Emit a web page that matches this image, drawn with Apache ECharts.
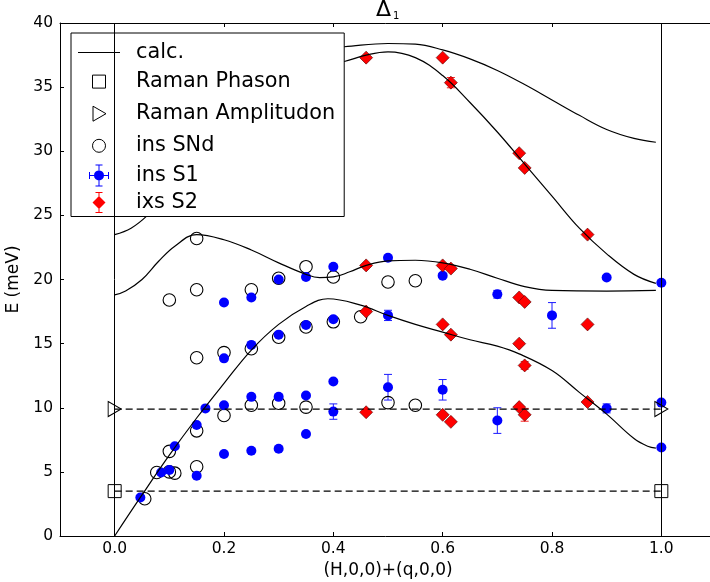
<!DOCTYPE html>
<html>
<head>
<meta charset="utf-8">
<title>Delta 1</title>
<script src="https://cdn.jsdelivr.net/npm/echarts@6/dist/echarts.min.js"></script>
<style>
html, body { margin: 0; padding: 0; background: #fff; }
#main { width: 710px; height: 582px; }
</style>
</head>
<body>
<div id="main"></div>
<script>
// calc. branches
var calc1 = [[0, 0], [0.05, 3.2], [0.1, 6.3], [0.15, 9.2], [0.2, 11.9], [0.25, 14.5], [0.3, 16.5],
    [0.35, 17.9], [0.39, 18.5], [0.45, 18.0], [0.5, 17.2], [0.55, 16.5], [0.6, 15.9], [0.65, 15.3],
    [0.7, 14.8], [0.74, 14.2], [0.8, 12.9], [0.85, 11.2], [0.9, 9.5], [0.95, 7.6], [0.975, 7.0], [0.99, 6.85]];
var calc2 = [[0, 18.8], [0.02, 19.1], [0.05, 20.0], [0.08, 21.4], [0.11, 22.6], [0.15, 23.5], [0.2, 23.1],
    [0.25, 22.3], [0.3, 21.3], [0.35, 20.4], [0.375, 20.15], [0.4, 20.2], [0.43, 20.6], [0.46, 21.1],
    [0.5, 21.45], [0.55, 21.5], [0.6, 21.3], [0.65, 20.8], [0.7, 20.1], [0.75, 19.45], [0.8, 19.15],
    [0.9, 19.1], [0.99, 19.15]];
var calc3 = [[0, 23.5], [0.03, 24.0], [0.06, 25.0], [0.1, 26.8], [0.15, 29.3], [0.2, 31.7], [0.25, 33.7],
    [0.3, 35.3], [0.35, 36.4], [0.42, 37.0], [0.46, 37.5], [0.5, 37.75], [0.55, 37.3], [0.6, 35.9],
    [0.65, 33.8], [0.7, 31.5], [0.75, 29.0], [0.8, 26.5], [0.85, 24.0], [0.9, 22.0], [0.95, 20.4], [0.99, 19.7]];
var calc4 = [[0, 36.0], [0.1, 36.8], [0.2, 37.4], [0.3, 37.8], [0.42, 38.15], [0.5, 38.4], [0.55, 38.35],
    [0.6, 37.9], [0.65, 37.2], [0.7, 36.3], [0.75, 35.2], [0.8, 34.0], [0.85, 32.8], [0.9, 31.7],
    [0.95, 31.0], [0.99, 30.7]];

// Raman
var ramanPhason = [[0, 3.5], [1, 3.5]];
var ramanAmp = [[0, 9.9], [1, 9.9]];

// ins SNd (open circles)
var insSNd = [[0.055, 2.9], [0.077, 4.95], [0.10, 5.0], [0.11, 4.9], [0.10, 6.6], [0.15, 5.4], [0.15, 8.2],
    [0.20, 9.4], [0.25, 10.2], [0.30, 10.35], [0.35, 10.05], [0.50, 10.4], [0.55, 10.2], [0.15, 13.9],
    [0.20, 14.3], [0.25, 14.6], [0.30, 15.5], [0.35, 16.3], [0.40, 16.7], [0.45, 17.1], [0.10, 18.4],
    [0.15, 19.2], [0.25, 19.2], [0.30, 20.1], [0.35, 21.0], [0.40, 20.2], [0.50, 19.8], [0.55, 19.9],
    [0.15, 23.2]];

// ins S1 (blue)
var insS1 = [[0.047, 3.0], [0.085, 4.95], [0.10, 5.15], [0.11, 7.0], [0.15, 4.7], [0.15, 8.65], [0.166, 9.95],
    [0.20, 10.2], [0.20, 6.4], [0.25, 6.65], [0.30, 6.8], [0.35, 7.95], [0.25, 10.85], [0.30, 10.85],
    [0.35, 10.95], [0.40, 12.05], [0.40, 9.7], [0.50, 11.6], [0.60, 11.4], [0.70, 9.0], [0.90, 9.95],
    [1.0, 10.4], [1.0, 6.9], [0.20, 13.85], [0.25, 14.9], [0.30, 15.7], [0.35, 16.45], [0.40, 16.9],
    [0.50, 17.2], [0.20, 18.2], [0.25, 18.6], [0.30, 20.0], [0.35, 20.2], [0.40, 21.0], [0.50, 21.7],
    [0.60, 20.3], [0.70, 18.85], [0.80, 17.2], [0.90, 20.15], [1.0, 19.75]];
var errS1 = [[0.40, 9.7, 0.6], [0.50, 11.6, 1.0], [0.50, 17.2, 0.4], [0.60, 11.4, 0.8], [0.70, 9.0, 1.0],
    [0.70, 18.85, 0.3], [0.80, 17.2, 1.0], [0.90, 9.95, 0.35]];

// ixs S2 (red)
var ixsS2 = [[0.46, 37.3], [0.60, 37.3], [0.615, 35.35], [0.74, 29.85], [0.75, 28.7], [0.865, 23.5],
    [0.46, 21.1], [0.60, 21.1], [0.615, 20.85], [0.74, 18.6], [0.75, 18.25], [0.865, 16.5],
    [0.46, 17.5], [0.60, 16.5], [0.615, 15.7], [0.74, 15.0], [0.75, 13.3], [0.865, 10.45],
    [0.46, 9.65], [0.60, 9.45], [0.615, 8.9], [0.74, 10.05], [0.75, 9.45]];
var errS2 = [[0.615, 35.35, 0.4], [0.75, 9.45, 0.5], [0.75, 13.3, 0.3]];

var xTicks = [0, 0.2, 0.4, 0.6, 0.8, 1.0];

var font = 'DejaVu Sans';

// legend icons, all in a 22x22 box (first two moves only fix the box)
var iconLine = 'path://M0,0L42,0L42,1L0,1Z';
var iconSquare = 'path://M0,0ZM22,22ZM4.5,4.5L17.5,4.5L17.5,17.5L4.5,17.5Z';
var iconTri = 'path://M0,0ZM22,22ZM5,3.5L18,11L5,18.5Z';
var iconCircle = 'path://M0,0ZM22,22ZM4.5,11A6.5,6.5 0 1,1 17.5,11A6.5,6.5 0 1,1 4.5,11Z';
var iconS1 = 'path://M0,0ZM22,22ZM6,11A5,5 0 1,1 16,11A5,5 0 1,1 6,11Z' +
    'M10.5,0L11.5,0L11.5,22L10.5,22Z M7.5,0L14.5,0L14.5,1L7.5,1Z M7.5,21L14.5,21L14.5,22L7.5,22Z' +
    'M1,10.5L21,10.5L21,11.5L1,11.5Z M1,7.5L2,7.5L2,14.5L1,14.5Z M20,7.5L21,7.5L21,14.5L20,14.5Z';
var iconS2 = 'path://M0,0ZM22,22ZM11,4.5L17.5,11L11,17.5L4.5,11Z' +
    'M10.5,0.5L11.5,0.5L11.5,21.5L10.5,21.5Z M7.5,0.5L14.5,0.5L14.5,1.5L7.5,1.5Z M7.5,20.5L14.5,20.5L14.5,21.5L7.5,21.5Z';

// vertical error bars with caps
function errorBar(color) {
    return function(params, api) {
        var x = api.value(0), y = api.value(1), e = api.value(2);
        var a = api.coord([x, y + e]);
        var b = api.coord([x, y - e]);
        var st = { stroke: color, lineWidth: 1 };
        return {
            type: 'group',
            children: [
                { type: 'line', shape: { x1: a[0], y1: a[1], x2: b[0], y2: b[1] }, style: st },
                { type: 'line', shape: { x1: a[0] - 4, y1: a[1], x2: a[0] + 4, y2: a[1] }, style: st },
                { type: 'line', shape: { x1: b[0] - 4, y1: b[1], x2: b[0] + 4, y2: b[1] }, style: st }
            ]
        };
    };
}

function calcLine(data) {
    return {
        name: 'calc.',
        type: 'line',
        data: data,
        smooth: 0.4,
        symbol: 'none',
        itemStyle: { color: '#000' },
        lineStyle: { color: '#000', width: 1.2 }
    };
}

var first = calcLine(calc1);
// the two vertical lines at q = 0 and q = 1
first.markLine = {
    silent: true,
    symbol: ['none', 'none'],
    label: { show: false },
    lineStyle: { color: '#000', width: 1, type: 'solid' },
    data: [{ xAxis: 0 }, { xAxis: 1 }]
};

var myechart = echarts.init(document.getElementById('main'));
var option = {
    animation: false,
    backgroundColor: '#fff',
    title: [
        { text: 'Δ', left: 376, top: -1, padding: 0, textStyle: { color: '#000', fontFamily: font, fontSize: 22, fontWeight: 'normal' } },
        { text: '1', left: 393, top: 11, padding: 0, textStyle: { color: '#000', fontFamily: font, fontSize: 10, fontWeight: 'normal' } }
    ],
    grid: { left: 60, top: 23, width: 656, height: 513, containLabel: false, outerBoundsMode: 'none' },
    legend: {
        orient: 'vertical',
        left: 71,
        top: 33,
        padding: [9, 9, 3, 7],
        itemGap: 5.1,
        itemWidth: 42,
        itemHeight: 22,
        backgroundColor: '#fff',
        borderColor: '#000',
        borderWidth: 1,
        selectedMode: false,
        textStyle: { color: '#000', fontFamily: font, fontSize: 20.8, padding: [0, 0, 0, 11] },
        data: [
            { name: 'calc.', icon: iconLine, itemStyle: { color: '#000', borderWidth: 0 } },
            { name: 'Raman Phason', icon: iconSquare, itemStyle: { color: 'none', borderColor: '#000', borderWidth: 1 } },
            { name: 'Raman Amplitudon', icon: iconTri, itemStyle: { color: 'none', borderColor: '#000', borderWidth: 1 } },
            { name: 'ins SNd', icon: iconCircle, itemStyle: { color: 'none', borderColor: '#000', borderWidth: 1 } },
            { name: 'ins S1', icon: iconS1, itemStyle: { color: '#0000ff', borderWidth: 0 } },
            { name: 'ixs S2', icon: iconS2, itemStyle: { color: '#ff0000', borderWidth: 0 } }
        ]
    },
    xAxis: [{
        type: 'value',
        min: -0.1,
        max: 1.1,
        name: '(H,0,0)+(q,0,0)',
        nameLocation: 'middle',
        nameGap: 24,
        nameTextStyle: { color: '#000', fontFamily: font, fontSize: 17 },
        axisLine: { show: true, onZero: false, lineStyle: { color: '#000', width: 1 } },
        axisTick: { show: true, inside: true, length: 4, customValues: xTicks, lineStyle: { color: '#000' } },
        axisLabel: {
            color: '#000', fontFamily: font, fontSize: 15.5, margin: 5, customValues: xTicks,
            formatter: function(v) { return v.toFixed(1); }
        },
        splitLine: { show: false }
    }, {
        type: 'value',
        position: 'top',
        min: -0.1,
        max: 1.1,
        axisLine: { show: true, onZero: false, lineStyle: { color: '#000', width: 1 } },
        axisTick: { show: true, inside: true, length: 4, customValues: xTicks, lineStyle: { color: '#000' } },
        axisLabel: { show: false },
        splitLine: { show: false }
    }],
    yAxis: {
        type: 'value',
        min: 0,
        max: 40,
        interval: 5,
        name: 'E (meV)',
        nameLocation: 'middle',
        nameGap: 29,
        nameTextStyle: { color: '#000', fontFamily: font, fontSize: 17 },
        axisLine: { show: true, onZero: false, lineStyle: { color: '#000', width: 1 } },
        axisTick: { show: true, inside: true, length: 4, lineStyle: { color: '#000' } },
        axisLabel: { color: '#000', fontFamily: font, fontSize: 15.5, margin: 7 },
        splitLine: { show: false }
    },
    series: [
        first,
        calcLine(calc2),
        calcLine(calc3),
        calcLine(calc4),
        {
            name: 'Raman Phason',
            type: 'line',
            data: ramanPhason,
            symbol: 'rect',
            symbolSize: 13,
            itemStyle: { color: 'none', borderColor: '#000', borderWidth: 1 },
            lineStyle: { color: '#000', width: 1.2, type: [7, 4] }
        },
        {
            name: 'Raman Amplitudon',
            type: 'line',
            data: ramanAmp,
            symbol: 'path://M0,0L13,7.5L0,15Z',
            symbolSize: [13, 15],
            itemStyle: { color: 'none', borderColor: '#000', borderWidth: 1 },
            lineStyle: { color: '#000', width: 1.2, type: [7, 4] }
        },
        {
            name: 'ins SNd',
            type: 'scatter',
            data: insSNd,
            symbol: 'circle',
            symbolSize: 12.5,
            itemStyle: { color: 'none', borderColor: '#000', borderWidth: 1.1, opacity: 1 }
        },
        {
            name: 'ins S1 err',
            type: 'custom',
            data: errS1,
            encode: { x: 0, y: 1 },
            renderItem: errorBar('#1a1aff')
        },
        {
            name: 'ins S1',
            type: 'scatter',
            data: insS1,
            symbol: 'circle',
            symbolSize: 10,
            itemStyle: { color: '#0000ff', opacity: 1 }
        },
        {
            name: 'ixs S2 err',
            type: 'custom',
            data: errS2,
            encode: { x: 0, y: 1 },
            renderItem: errorBar('#ff2020')
        },
        {
            name: 'ixs S2',
            type: 'scatter',
            data: ixsS2,
            symbol: 'diamond',
            symbolSize: 13,
            itemStyle: { color: '#ff0000', borderColor: '#500000', borderWidth: 0.6, opacity: 1 }
        }
    ]
};
myechart.setOption(option);
</script>
</body>
</html>
